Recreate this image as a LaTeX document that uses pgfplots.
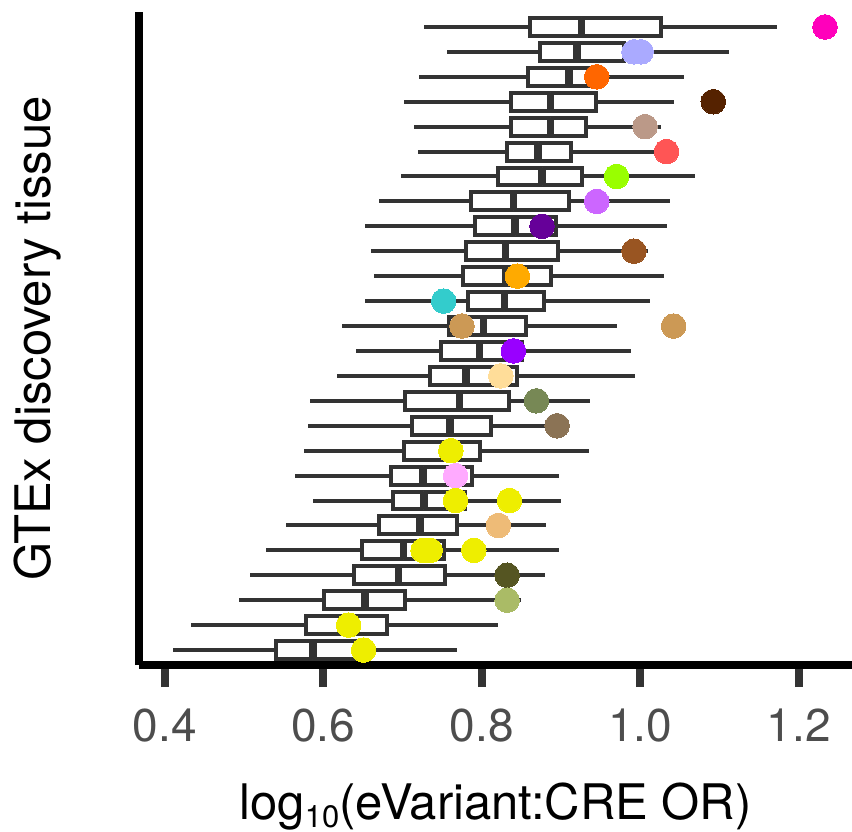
\documentclass[border=0pt]{standalone}
\usepackage{fontspec}
\setmainfont{TeX Gyre Heros}
\usepackage{pgfplots}
\pgfplotsset{compat=1.18}
\usepgfplotslibrary{statistics}
\definecolor{c333}{HTML}{333333}
\definecolor{c4d}{HTML}{4D4D4D}
\definecolor{cWB}{HTML}{FF00BB}
\definecolor{cMU}{HTML}{AAAAFF}
\definecolor{cAS}{HTML}{FF6600}
\definecolor{cEM}{HTML}{552200}
\definecolor{cEU}{HTML}{BB9988}
\definecolor{cAA}{HTML}{FF5555}
\definecolor{cLU}{HTML}{99FF00}
\definecolor{cLC}{HTML}{CC66FF}
\definecolor{cLV}{HTML}{660099}
\definecolor{cPA}{HTML}{995522}
\definecolor{cAV}{HTML}{FFAA00}
\definecolor{cBR}{HTML}{33CCCC}
\definecolor{cCT}{HTML}{CC9955}
\definecolor{cHA}{HTML}{9900FF}
\definecolor{cST}{HTML}{FFDD99}
\definecolor{cSP}{HTML}{778855}
\definecolor{cGE}{HTML}{8B7355}
\definecolor{cBN}{HTML}{EEEE00}
\definecolor{cOV}{HTML}{FFAAFF}
\definecolor{cCS}{HTML}{EEBB77}
\definecolor{cSI}{HTML}{555522}
\definecolor{cLI}{HTML}{AABB66}
\pgfplotsset{
  bx/.style={draw=c333, fill=white, line width=4bp, solid, mark=none,
    boxplot/draw direction=x, boxplot/box extend=0.72, boxplot/whisker extend=0,
    boxplot/every median/.style={line width=7.5bp}},
  dot/.style={only marks, color=#1, mark=*, mark size=12.3bp, mark options={draw=none, fill=#1, line width=0pt}},
}
\newcommand{\bigfont}{\fontsize{46bp}{52bp}\selectfont}
\newcommand{\labfont}{\fontsize{49bp}{54bp}\selectfont}
\begin{document}
\begin{tikzpicture}
\path[use as bounding box] (-139bp,-167bp) rectangle (713bp,665bp);
\begin{axis}[
  at={(0,0)}, anchor=south west,
  scale only axis, width=713bp, height=653bp,
  xmin=0.3677, xmax=1.267, ymin=0.4, ymax=26.6,
  axis x line*=bottom, axis y line*=left,
  axis line style={line width=8bp, black, -},
  xtick={0.4,0.6,0.8,1.0,1.2}, xticklabels={0.4,0.6,0.8,1.0,1.2},
  ytick=\empty,
  tick align=outside, major tick length=22bp,
  xtick style={line width=8bp, c333},
  xticklabel style={font=\bigfont, text=c4d, anchor=base, inner sep=0pt, yshift=-54bp},
  xlabel={log\raisebox{-8bp}{\fontsize{31bp}{31bp}\selectfont 10}(eVariant:CRE OR)},
  ylabel={GTEx discovery tissue},
  xlabel style={font=\labfont, at={(axis description cs:0.5,0)}, anchor=base, inner sep=0pt, yshift=-154bp},
  ylabel style={font=\labfont, at={(axis description cs:0,0.5)}, anchor=base, inner sep=0pt, yshift=88bp},
  clip=false,
]
\addplot[bx, boxplot prepared={draw position=26, lower whisker=0.727, lower quartile=0.861, median=0.926, upper quartile=1.026, upper whisker=1.173}] coordinates {};
\addplot[bx, boxplot prepared={draw position=25, lower whisker=0.756, lower quartile=0.874, median=0.920, upper quartile=0.980, upper whisker=1.112}] coordinates {};
\addplot[bx, boxplot prepared={draw position=24, lower whisker=0.721, lower quartile=0.858, median=0.910, upper quartile=0.940, upper whisker=1.055}] coordinates {};
\addplot[bx, boxplot prepared={draw position=23, lower whisker=0.702, lower quartile=0.837, median=0.887, upper quartile=0.944, upper whisker=1.042}] coordinates {};
\addplot[bx, boxplot prepared={draw position=22, lower whisker=0.715, lower quartile=0.837, median=0.887, upper quartile=0.932, upper whisker=1.026}] coordinates {};
\addplot[bx, boxplot prepared={draw position=21, lower whisker=0.719, lower quartile=0.832, median=0.871, upper quartile=0.913, upper whisker=1.031}] coordinates {};
\addplot[bx, boxplot prepared={draw position=20, lower whisker=0.698, lower quartile=0.820, median=0.876, upper quartile=0.926, upper whisker=1.069}] coordinates {};
\addplot[bx, boxplot prepared={draw position=19, lower whisker=0.670, lower quartile=0.787, median=0.840, upper quartile=0.910, upper whisker=1.038}] coordinates {};
\addplot[bx, boxplot prepared={draw position=18, lower whisker=0.653, lower quartile=0.791, median=0.842, upper quartile=0.894, upper whisker=1.034}] coordinates {};
\addplot[bx, boxplot prepared={draw position=17, lower whisker=0.660, lower quartile=0.780, median=0.830, upper quartile=0.896, upper whisker=1.010}] coordinates {};
\addplot[bx, boxplot prepared={draw position=16, lower whisker=0.664, lower quartile=0.776, median=0.830, upper quartile=0.887, upper whisker=1.030}] coordinates {};
\addplot[bx, boxplot prepared={draw position=15, lower whisker=0.653, lower quartile=0.783, median=0.829, upper quartile=0.878, upper whisker=1.012}] coordinates {};
\addplot[bx, boxplot prepared={draw position=14, lower whisker=0.624, lower quartile=0.759, median=0.802, upper quartile=0.856, upper whisker=0.970}] coordinates {};
\addplot[bx, boxplot prepared={draw position=13, lower whisker=0.642, lower quartile=0.748, median=0.797, upper quartile=0.851, upper whisker=0.988}] coordinates {};
\addplot[bx, boxplot prepared={draw position=12, lower whisker=0.618, lower quartile=0.735, median=0.780, upper quartile=0.844, upper whisker=0.993}] coordinates {};
\addplot[bx, boxplot prepared={draw position=11, lower whisker=0.583, lower quartile=0.703, median=0.772, upper quartile=0.834, upper whisker=0.937}] coordinates {};
\addplot[bx, boxplot prepared={draw position=10, lower whisker=0.581, lower quartile=0.712, median=0.760, upper quartile=0.812, upper whisker=0.895}] coordinates {};
\addplot[bx, boxplot prepared={draw position=9, lower whisker=0.576, lower quartile=0.702, median=0.752, upper quartile=0.798, upper whisker=0.935}] coordinates {};
\addplot[bx, boxplot prepared={draw position=8, lower whisker=0.565, lower quartile=0.685, median=0.726, upper quartile=0.788, upper whisker=0.898}] coordinates {};
\addplot[bx, boxplot prepared={draw position=7, lower whisker=0.587, lower quartile=0.688, median=0.727, upper quartile=0.779, upper whisker=0.900}] coordinates {};
\addplot[bx, boxplot prepared={draw position=6, lower whisker=0.553, lower quartile=0.670, median=0.722, upper quartile=0.769, upper whisker=0.881}] coordinates {};
\addplot[bx, boxplot prepared={draw position=5, lower whisker=0.528, lower quartile=0.649, median=0.701, upper quartile=0.752, upper whisker=0.898}] coordinates {};
\addplot[bx, boxplot prepared={draw position=4, lower whisker=0.508, lower quartile=0.639, median=0.695, upper quartile=0.754, upper whisker=0.880}] coordinates {};
\addplot[bx, boxplot prepared={draw position=3, lower whisker=0.494, lower quartile=0.601, median=0.653, upper quartile=0.703, upper whisker=0.849}] coordinates {};
\addplot[bx, boxplot prepared={draw position=2, lower whisker=0.433, lower quartile=0.578, median=0.630, upper quartile=0.680, upper whisker=0.820}] coordinates {};
\addplot[bx, boxplot prepared={draw position=1, lower whisker=0.410, lower quartile=0.541, median=0.587, upper quartile=0.650, upper whisker=0.769}] coordinates {};
% points
\addplot[dot=cWB] coordinates {(1.233,26)};
\addplot[dot=cMU] coordinates {(0.992,25) (1.001,25)};
\addplot[dot=cAS] coordinates {(0.945,24)};
\addplot[dot=cEM] coordinates {(1.092,23)};
\addplot[dot=cEU] coordinates {(1.006,22)};
\addplot[dot=cAA] coordinates {(1.033,21)};
\addplot[dot=cLU] coordinates {(0.970,20)};
\addplot[dot=cLC] coordinates {(0.945,19)};
\addplot[dot=cLV] coordinates {(0.876,18)};
\addplot[dot=cPA] coordinates {(0.992,17)};
\addplot[dot=cAV] coordinates {(0.845,16)};
\addplot[dot=cBR] coordinates {(0.752,15)};
\addplot[dot=cCT] coordinates {(0.775,14) (1.042,14)};
\addplot[dot=cHA] coordinates {(0.840,13)};
\addplot[dot=cST] coordinates {(0.824,12)};
\addplot[dot=cSP] coordinates {(0.869,11)};
\addplot[dot=cGE] coordinates {(0.895,10)};
\addplot[dot=cBN] coordinates {(0.761,9)};
\addplot[dot=cOV] coordinates {(0.767,8)};
\addplot[dot=cBN] coordinates {(0.767,7) (0.835,7)};
\addplot[dot=cCS] coordinates {(0.821,6)};
\addplot[dot=cBN] coordinates {(0.726,5) (0.735,5) (0.790,5)};
\addplot[dot=cSI] coordinates {(0.832,4)};
\addplot[dot=cLI] coordinates {(0.832,3)};
\addplot[dot=cBN] coordinates {(0.632,2)};
\addplot[dot=cBN] coordinates {(0.651,1)};
\end{axis}
\end{tikzpicture}
\end{document}
